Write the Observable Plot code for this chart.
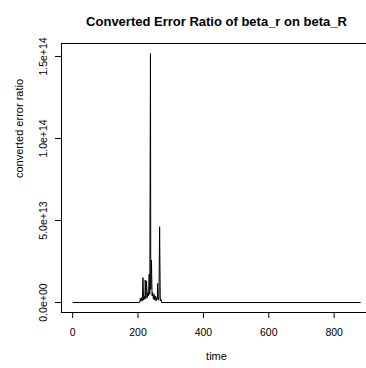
<!DOCTYPE html>
<html>
<head>
<meta charset="utf-8">
<script src="https://cdn.jsdelivr.net/npm/d3@7"></script>
<script src="https://cdn.jsdelivr.net/npm/@observablehq/plot@0.6"></script>
<style>
  html, body { margin: 0; padding: 0; background: white; }
  svg { display: block; }
</style>
</head>
<body>
<div id="chart"></div>
<script>
const chartTitle = "Converted Error Ratio of beta_r on beta_R";
const xTitle = "time";
const yTitle = "converted error ratio";

// time points and converted error ratio values
const time  = [1, 205, 207, 209, 211, 213, 215, 217, 219, 221, 222, 224, 226, 228, 230, 232, 234, 236, 238, 239, 241, 243, 245, 247, 249, 251, 253, 255, 257, 259, 260, 262, 264, 266, 268, 270, 272, 880];
const ratio = [0, 0, 2.5e12, 0.8e12, 3e12, 1e12, 1.52e13, 1.5e12, 4e12, 2e12, 1.37e13, 2.5e12, 1.32e13, 3e12, 6e12, 4e12, 1.73e13, 5e12, 1.518e14, 8e12, 2.58e13, 4e12, 6e12, 2e12, 5e12, 1.5e12, 4e12, 1e12, 3e12, 2e12, 1.16e13, 1.5e12, 3e12, 4.62e13, 1e12, 2e12, 0, 0];

const xTicks = [0, 200, 400, 600, 800];
const yTicks = [0, 5e13, 1e14, 1.5e14];
const yTickLabels = ["0.0e+00", "5.0e+13", "1.0e+14", "1.5e+14"];

const xDomain = [-34.2, 899];
const yDomain = [-6.07e12, 1.579e14];

const data = time.map((t, i) => ({t, v: ratio[i]}));

const chart = Plot.plot({
  width: 366,
  height: 368,
  marginLeft: 61,
  marginRight: 0,
  marginTop: 43,
  marginBottom: 56,
  style: {fontFamily: "'Liberation Sans', Arial, Helvetica, sans-serif", background: "white", color: "black"},
  x: {domain: xDomain},
  y: {domain: yDomain},
  marks: [
    Plot.ruleY([yDomain[1]], {stroke: "black", strokeWidth: 1}),
    Plot.ruleY([yDomain[0]], {stroke: "black", strokeWidth: 1}),
    Plot.ruleX([xDomain[0]], {stroke: "black", strokeWidth: 1}),
    Plot.line(data, {x: "t", y: "v", stroke: "black", strokeWidth: 1}),
    Plot.axisX({ticks: xTicks, tickSize: 6, tickPadding: 10, fontSize: 10.5, label: null, tickFormat: d => String(d)}),
    Plot.axisY({ticks: yTicks, tickSize: 6, tickPadding: 12, tickRotate: -90, textAnchor: "middle", lineAnchor: "middle", fontSize: 10.5, label: null,
                tickFormat: d => yTickLabels[yTicks.indexOf(d)]}),
    Plot.text([xTitle], {text: d => d, frameAnchor: "bottom", dy: 47, dx: 2.5, fontSize: 11}),
    Plot.text([yTitle], {text: d => d, frameAnchor: "left", dx: -42, rotate: -90, fontSize: 11}),
    Plot.text([chartTitle], {text: d => d, frameAnchor: "top", dy: -26.5, dx: 2.5, fontSize: 13, fontWeight: "bold"})
  ]
});
document.getElementById("chart").appendChild(chart);
</script>
</body>
</html>
